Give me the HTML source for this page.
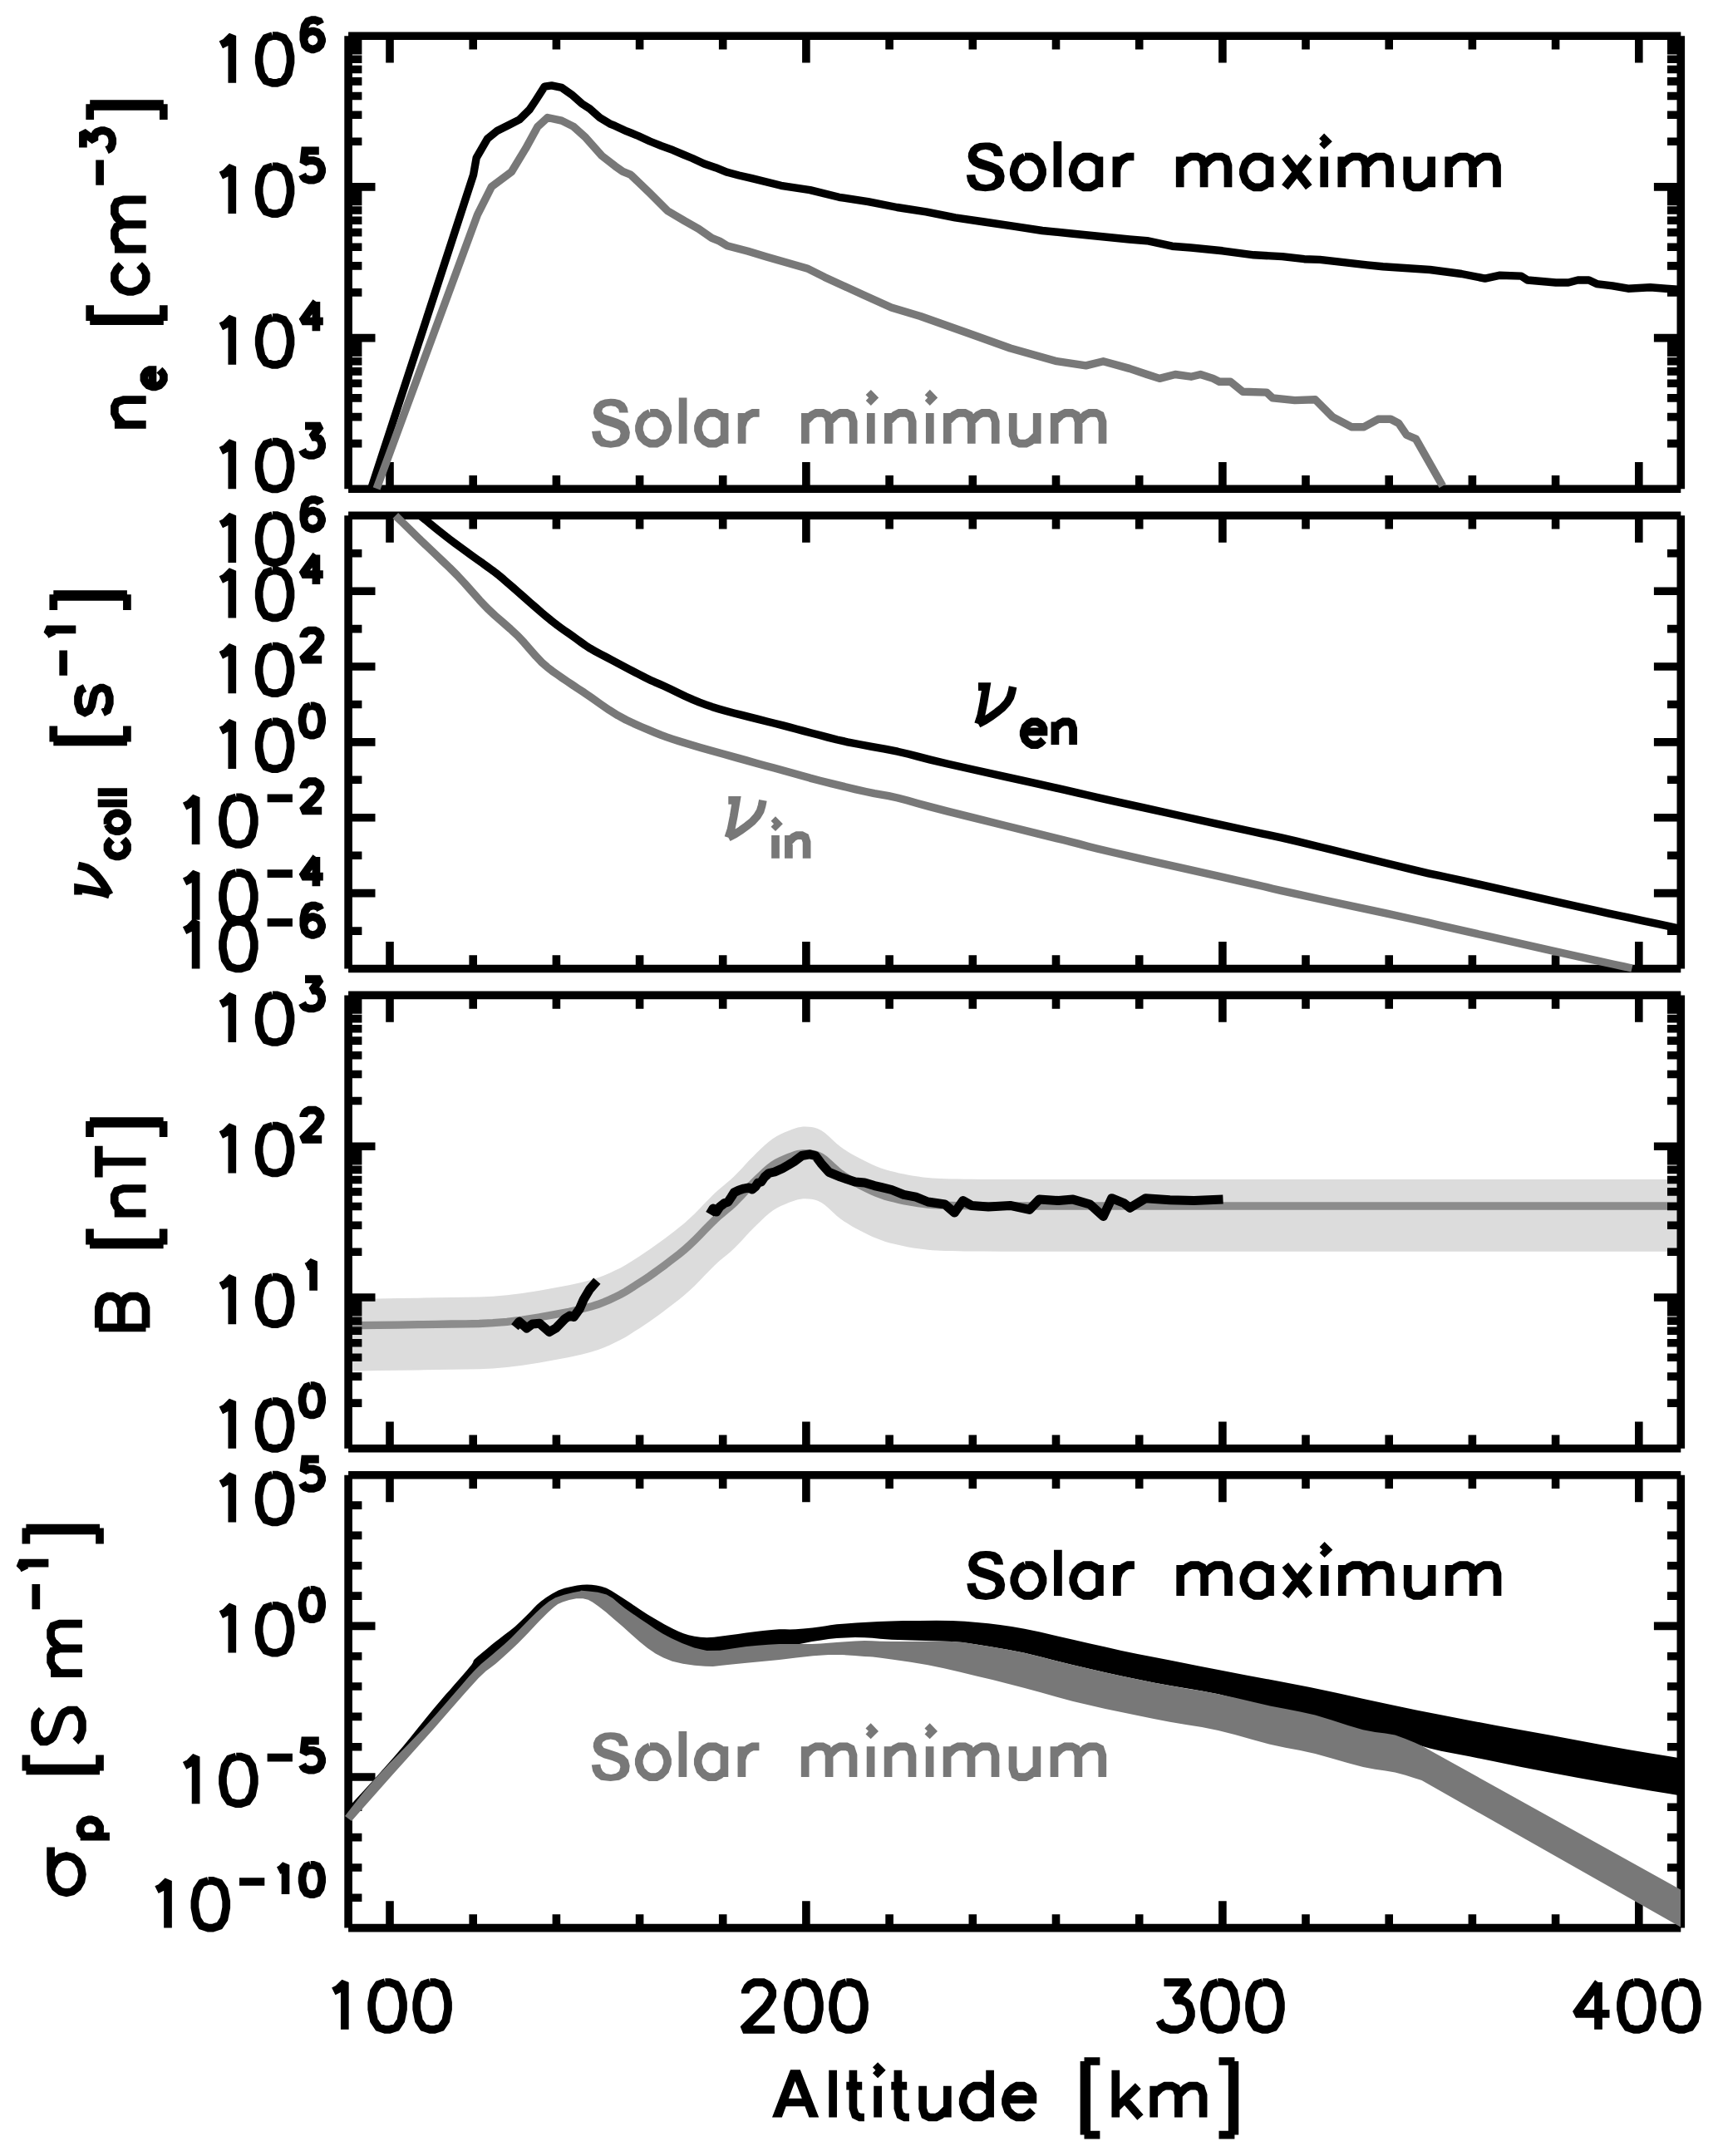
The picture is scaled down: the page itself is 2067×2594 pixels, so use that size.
<!DOCTYPE html>
<html><head><meta charset="utf-8"><title>Ionosphere profiles</title>
<style>html,body{margin:0;padding:0;background:#fff;width:2067px;height:2594px;overflow:hidden}svg{display:block}</style>
</head><body>
<svg width="2067" height="2594" viewBox="0 0 2067 2594">
<rect width="2067" height="2594" fill="#fff"/>
<path d="M419 1562.9 433.7 1562.7 454.7 1562.4 478.9 1562.1 503.3 1561.7 524.8 1561.3 543.1 1561 560.2 1560.8 576.6 1560.5 593 1559.7 610 1558.3 628.4 1556 647.8 1553 667 1549.6 684.6 1546.2 699.4 1543 710.8 1540.1 719.7 1537.3 726.9 1534.5 733.4 1531.7 740 1528.6 746.6 1525.4 752.7 1522 758.3 1518.5 763.9 1514.9 769.7 1511.2 775.6 1507.3 781.6 1503.3 787.5 1499.1 793.5 1494.8 799.4 1490.4 805.3 1485.9 811.2 1481.4 817.1 1476.8 823.1 1471.9 829.1 1466.6 835.3 1460.7 841.7 1454.2 848.1 1447.6 854.3 1441.2 860 1435.6 865.1 1430.9 869.9 1426.9 874.3 1423.2 878.8 1419.5 883.3 1415.3 888 1410.6 892.6 1405.7 897.3 1400.6 901.9 1395.6 906.6 1390.9 911.2 1386.3 915.9 1381.8 920.5 1377.4 925.2 1373.4 929.8 1369.9 934.6 1366.9 939.4 1364.4 944.3 1362.2 948.9 1360.4 953.1 1358.8 956.8 1357.5 960 1356.6 963.1 1356 966.1 1355.6 969.4 1355.6 972.9 1355.7 976.4 1356.1 980.1 1356.8 983.9 1358 988 1360 992.4 1363.1 997 1367.1 1001.8 1371.6 1006.6 1376 1011.3 1379.8 1015.9 1383 1020.5 1385.9 1025.1 1388.7 1029.8 1391.2 1034.6 1393.8 1039.5 1396.3 1044.5 1398.8 1049.6 1401.2 1054.8 1403.4 1060 1405.4 1065.3 1407.2 1070.7 1408.7 1076.2 1410.1 1081.7 1411.4 1087.3 1412.6 1093 1413.7 1098.8 1414.7 1104.7 1415.6 1110.6 1416.4 1116.4 1417 1121.8 1417.5 1126.6 1417.8 1131.8 1418 1137.8 1418.2 1145.5 1418.4 1153.1 1418.6 1160.1 1418.7 1169.1 1418.8 1182.8 1418.9 1203.7 1419 1227.3 1419 1251.8 1419 1284.2 1419 1331.3 1419 1400 1419 1507.2 1419 1648.1 1419 1797.7 1419 1930.9 1419 2022.3 1419 2022.3 1505.7 1930.9 1505.7 1797.7 1505.7 1648.1 1505.7 1507.2 1505.7 1400 1505.7 1331.3 1505.7 1284.2 1505.7 1251.8 1505.7 1227.3 1505.7 1203.7 1505.7 1182.8 1505.6 1169.1 1505.5 1160.1 1505.4 1153.1 1505.3 1145.5 1505.1 1137.8 1504.9 1131.8 1504.7 1126.6 1504.5 1121.8 1504.2 1116.4 1503.7 1110.6 1503.1 1104.7 1502.3 1098.8 1501.4 1093 1500.4 1087.3 1499.3 1081.7 1498.1 1076.2 1496.8 1070.7 1495.4 1065.3 1493.9 1060 1492.1 1054.8 1490.1 1049.6 1487.9 1044.5 1485.5 1039.5 1483 1034.6 1480.5 1029.8 1477.9 1025.1 1475.4 1020.5 1472.6 1015.9 1469.7 1011.3 1466.5 1006.6 1462.7 1001.8 1458.3 997 1453.8 992.4 1449.8 988 1446.7 983.9 1444.7 980.1 1443.5 976.4 1442.8 972.9 1442.4 969.4 1442.3 966.1 1442.3 963.1 1442.7 960 1443.3 956.8 1444.2 953.1 1445.5 948.9 1447.1 944.3 1448.9 939.4 1451.1 934.6 1453.6 929.8 1456.6 925.2 1460.1 920.5 1464.1 915.9 1468.5 911.2 1473 906.6 1477.6 901.9 1482.3 897.3 1487.3 892.6 1492.4 888 1497.3 883.3 1502 878.8 1506.2 874.3 1509.9 869.9 1513.6 865.1 1517.6 860 1522.3 854.3 1527.9 848.1 1534.3 841.7 1540.9 835.3 1547.4 829.1 1553.3 823.1 1558.6 817.1 1563.5 811.2 1568.1 805.3 1572.6 799.4 1577.1 793.5 1581.5 787.5 1585.8 781.6 1590 775.6 1594 769.7 1597.9 763.9 1601.6 758.3 1605.2 752.7 1608.7 746.6 1612.1 740 1615.3 733.4 1618.4 726.9 1621.2 719.7 1624 710.8 1626.8 699.4 1629.7 684.6 1632.9 667 1636.3 647.8 1639.7 628.4 1642.7 610 1645 593 1646.4 576.6 1647.2 560.2 1647.5 543.1 1647.7 524.8 1648 503.3 1648.4 478.9 1648.8 454.7 1649.1 433.7 1649.4 419 1649.6Z" fill="#dcdcdc"/>
<path d="M419 1594.9 433.7 1594.7 454.7 1594.4 478.9 1594.1 503.3 1593.7 524.8 1593.3 543.1 1593 560.2 1592.8 576.6 1592.5 593 1591.7 610 1590.3 628.4 1588 647.8 1585 667 1581.6 684.6 1578.2 699.4 1575 710.8 1572.1 719.7 1569.3 726.9 1566.5 733.4 1563.7 740 1560.6 746.6 1557.4 752.7 1554 758.3 1550.5 763.9 1546.9 769.7 1543.2 775.6 1539.3 781.6 1535.3 787.5 1531.1 793.5 1526.8 799.4 1522.4 805.3 1517.9 811.2 1513.4 817.1 1508.8 823.1 1503.9 829.1 1498.6 835.3 1492.7 841.7 1486.2 848.1 1479.6 854.3 1473.2 860 1467.6 865.1 1462.9 869.9 1458.9 874.3 1455.2 878.8 1451.5 883.3 1447.3 888 1442.6 892.6 1437.7 897.3 1432.6 901.9 1427.6 906.6 1422.9 911.2 1418.3 915.9 1413.8 920.5 1409.4 925.2 1405.4 929.8 1401.9 934.6 1398.9 939.4 1396.4 944.3 1394.2 948.9 1392.4 953.1 1390.8 956.8 1389.5 960 1388.6 963.1 1388 966.1 1387.6 969.4 1387.6 972.9 1387.7 976.4 1388.1 980.1 1388.8 983.9 1390 988 1392 992.4 1395.1 997 1399.1 1001.8 1403.6 1006.6 1408 1011.3 1411.8 1015.9 1415 1020.5 1417.9 1025.1 1420.7 1029.8 1423.2 1034.6 1425.8 1039.5 1428.3 1044.5 1430.8 1049.6 1433.2 1054.8 1435.4 1060 1437.4 1065.3 1439.2 1070.7 1440.7 1076.2 1442.1 1081.7 1443.4 1087.3 1444.6 1093 1445.7 1098.8 1446.7 1104.7 1447.6 1110.6 1448.4 1116.4 1449 1121.8 1449.5 1126.6 1449.8 1131.8 1450 1137.8 1450.2 1145.5 1450.4 1153.1 1450.6 1160.1 1450.7 1169.1 1450.8 1182.8 1450.9 1203.7 1451 1227.3 1451 1251.8 1451 1284.2 1451 1331.3 1451 1400 1451 1507.2 1451 1648.1 1451 1797.7 1451 1930.9 1451 2022.3 1451" fill="none" stroke="#8c8c8c" stroke-width="9.3"/>
<path d="M419.1 43.2L419.1 588.3M2022.3 43.2L2022.3 588.3M419.1 43.2L2022.3 43.2M419.1 588.3L2022.3 588.3M469 588.3L469 555.9M469 43.2L469 75.6M569.2 588.3L569.2 572M569.2 43.2L569.2 59.5M669.4 588.3L669.4 572M669.4 43.2L669.4 59.5M769.6 588.3L769.6 572M769.6 43.2L769.6 59.5M869.7 588.3L869.7 572M869.7 43.2L869.7 59.5M969.9 588.3L969.9 555.9M969.9 43.2L969.9 75.6M1070.1 588.3L1070.1 572M1070.1 43.2L1070.1 59.5M1170.3 588.3L1170.3 572M1170.3 43.2L1170.3 59.5M1270.5 588.3L1270.5 572M1270.5 43.2L1270.5 59.5M1370.7 588.3L1370.7 572M1370.7 43.2L1370.7 59.5M1470.9 588.3L1470.9 555.9M1470.9 43.2L1470.9 75.6M1571 588.3L1571 572M1571 43.2L1571 59.5M1671.2 588.3L1671.2 572M1671.2 43.2L1671.2 59.5M1771.4 588.3L1771.4 572M1771.4 43.2L1771.4 59.5M1871.6 588.3L1871.6 572M1871.6 43.2L1871.6 59.5M1971.8 588.3L1971.8 555.9M1971.8 43.2L1971.8 75.6M419.1 620.3L419.1 1165.5M2022.3 620.3L2022.3 1165.5M419.1 620.3L2022.3 620.3M419.1 1165.5L2022.3 1165.5M469 1165.5L469 1133.1M469 620.3L469 652.7M569.2 1165.5L569.2 1149.2M569.2 620.3L569.2 636.6M669.4 1165.5L669.4 1149.2M669.4 620.3L669.4 636.6M769.6 1165.5L769.6 1149.2M769.6 620.3L769.6 636.6M869.7 1165.5L869.7 1149.2M869.7 620.3L869.7 636.6M969.9 1165.5L969.9 1133.1M969.9 620.3L969.9 652.7M1070.1 1165.5L1070.1 1149.2M1070.1 620.3L1070.1 636.6M1170.3 1165.5L1170.3 1149.2M1170.3 620.3L1170.3 636.6M1270.5 1165.5L1270.5 1149.2M1270.5 620.3L1270.5 636.6M1370.7 1165.5L1370.7 1149.2M1370.7 620.3L1370.7 636.6M1470.9 1165.5L1470.9 1133.1M1470.9 620.3L1470.9 652.7M1571 1165.5L1571 1149.2M1571 620.3L1571 636.6M1671.2 1165.5L1671.2 1149.2M1671.2 620.3L1671.2 636.6M1771.4 1165.5L1771.4 1149.2M1771.4 620.3L1771.4 636.6M1871.6 1165.5L1871.6 1149.2M1871.6 620.3L1871.6 636.6M1971.8 1165.5L1971.8 1133.1M1971.8 620.3L1971.8 652.7M419.1 1197.4L419.1 1742.8M2022.3 1197.4L2022.3 1742.8M419.1 1197.4L2022.3 1197.4M419.1 1742.8L2022.3 1742.8M469 1742.8L469 1710.4M469 1197.4L469 1229.8M569.2 1742.8L569.2 1726.5M569.2 1197.4L569.2 1213.7M669.4 1742.8L669.4 1726.5M669.4 1197.4L669.4 1213.7M769.6 1742.8L769.6 1726.5M769.6 1197.4L769.6 1213.7M869.7 1742.8L869.7 1726.5M869.7 1197.4L869.7 1213.7M969.9 1742.8L969.9 1710.4M969.9 1197.4L969.9 1229.8M1070.1 1742.8L1070.1 1726.5M1070.1 1197.4L1070.1 1213.7M1170.3 1742.8L1170.3 1726.5M1170.3 1197.4L1170.3 1213.7M1270.5 1742.8L1270.5 1726.5M1270.5 1197.4L1270.5 1213.7M1370.7 1742.8L1370.7 1726.5M1370.7 1197.4L1370.7 1213.7M1470.9 1742.8L1470.9 1710.4M1470.9 1197.4L1470.9 1229.8M1571 1742.8L1571 1726.5M1571 1197.4L1571 1213.7M1671.2 1742.8L1671.2 1726.5M1671.2 1197.4L1671.2 1213.7M1771.4 1742.8L1771.4 1726.5M1771.4 1197.4L1771.4 1213.7M1871.6 1742.8L1871.6 1726.5M1871.6 1197.4L1871.6 1213.7M1971.8 1742.8L1971.8 1710.4M1971.8 1197.4L1971.8 1229.8M419.1 1774.8L419.1 2319.6M2022.3 1774.8L2022.3 2319.6M419.1 1774.8L2022.3 1774.8M419.1 2319.6L2022.3 2319.6M469 2319.6L469 2287.2M469 1774.8L469 1807.2M569.2 2319.6L569.2 2303.3M569.2 1774.8L569.2 1791.1M669.4 2319.6L669.4 2303.3M669.4 1774.8L669.4 1791.1M769.6 2319.6L769.6 2303.3M769.6 1774.8L769.6 1791.1M869.7 2319.6L869.7 2303.3M869.7 1774.8L869.7 1791.1M969.9 2319.6L969.9 2287.2M969.9 1774.8L969.9 1807.2M1070.1 2319.6L1070.1 2303.3M1070.1 1774.8L1070.1 1791.1M1170.3 2319.6L1170.3 2303.3M1170.3 1774.8L1170.3 1791.1M1270.5 2319.6L1270.5 2303.3M1270.5 1774.8L1270.5 1791.1M1370.7 2319.6L1370.7 2303.3M1370.7 1774.8L1370.7 1791.1M1470.9 2319.6L1470.9 2287.2M1470.9 1774.8L1470.9 1807.2M1571 2319.6L1571 2303.3M1571 1774.8L1571 1791.1M1671.2 2319.6L1671.2 2303.3M1671.2 1774.8L1671.2 1791.1M1771.4 2319.6L1771.4 2303.3M1771.4 1774.8L1771.4 1791.1M1871.6 2319.6L1871.6 2303.3M1871.6 1774.8L1871.6 1791.1M1971.8 2319.6L1971.8 2287.2M1971.8 1774.8L1971.8 1807.2M419.1 588.3L451.5 588.3M2022.3 588.3L1989.9 588.3M419.1 533.6L435.4 533.6M2022.3 533.6L2006 533.6M419.1 501.6L435.4 501.6M2022.3 501.6L2006 501.6M419.1 478.9L435.4 478.9M2022.3 478.9L2006 478.9M419.1 461.3L435.4 461.3M2022.3 461.3L2006 461.3M419.1 446.9L435.4 446.9M2022.3 446.9L2006 446.9M419.1 434.7L435.4 434.7M2022.3 434.7L2006 434.7M419.1 424.2L435.4 424.2M2022.3 424.2L2006 424.2M419.1 414.9L435.4 414.9M2022.3 414.9L2006 414.9M419.1 406.6L451.5 406.6M2022.3 406.6L1989.9 406.6M419.1 351.9L435.4 351.9M2022.3 351.9L2006 351.9M419.1 319.9L435.4 319.9M2022.3 319.9L2006 319.9M419.1 297.2L435.4 297.2M2022.3 297.2L2006 297.2M419.1 279.6L435.4 279.6M2022.3 279.6L2006 279.6M419.1 265.2L435.4 265.2M2022.3 265.2L2006 265.2M419.1 253L435.4 253M2022.3 253L2006 253M419.1 242.5L435.4 242.5M2022.3 242.5L2006 242.5M419.1 233.2L435.4 233.2M2022.3 233.2L2006 233.2M419.1 224.9L451.5 224.9M2022.3 224.9L1989.9 224.9M419.1 170.2L435.4 170.2M2022.3 170.2L2006 170.2M419.1 138.2L435.4 138.2M2022.3 138.2L2006 138.2M419.1 115.5L435.4 115.5M2022.3 115.5L2006 115.5M419.1 97.9L435.4 97.9M2022.3 97.9L2006 97.9M419.1 83.5L435.4 83.5M2022.3 83.5L2006 83.5M419.1 71.3L435.4 71.3M2022.3 71.3L2006 71.3M419.1 60.8L435.4 60.8M2022.3 60.8L2006 60.8M419.1 51.5L435.4 51.5M2022.3 51.5L2006 51.5M419.1 43.2L451.5 43.2M2022.3 43.2L1989.9 43.2M419.1 1165.5L451.5 1165.5M2022.3 1165.5L1989.9 1165.5M419.1 1120.1L435.4 1120.1M2022.3 1120.1L2006 1120.1M419.1 1074.6L451.5 1074.6M2022.3 1074.6L1989.9 1074.6M419.1 1029.2L435.4 1029.2M2022.3 1029.2L2006 1029.2M419.1 983.8L451.5 983.8M2022.3 983.8L1989.9 983.8M419.1 938.3L435.4 938.3M2022.3 938.3L2006 938.3M419.1 892.9L451.5 892.9M2022.3 892.9L1989.9 892.9M419.1 847.5L435.4 847.5M2022.3 847.5L2006 847.5M419.1 802L451.5 802M2022.3 802L1989.9 802M419.1 756.6L435.4 756.6M2022.3 756.6L2006 756.6M419.1 711.2L451.5 711.2M2022.3 711.2L1989.9 711.2M419.1 665.7L435.4 665.7M2022.3 665.7L2006 665.7M419.1 620.3L451.5 620.3M2022.3 620.3L1989.9 620.3M419.1 1742.8L451.5 1742.8M2022.3 1742.8L1989.9 1742.8M419.1 1688.1L435.4 1688.1M2022.3 1688.1L2006 1688.1M419.1 1656.1L435.4 1656.1M2022.3 1656.1L2006 1656.1M419.1 1633.3L435.4 1633.3M2022.3 1633.3L2006 1633.3M419.1 1615.7L435.4 1615.7M2022.3 1615.7L2006 1615.7M419.1 1601.3L435.4 1601.3M2022.3 1601.3L2006 1601.3M419.1 1589.2L435.4 1589.2M2022.3 1589.2L2006 1589.2M419.1 1578.6L435.4 1578.6M2022.3 1578.6L2006 1578.6M419.1 1569.3L435.4 1569.3M2022.3 1569.3L2006 1569.3M419.1 1561L451.5 1561M2022.3 1561L1989.9 1561M419.1 1506.3L435.4 1506.3M2022.3 1506.3L2006 1506.3M419.1 1474.3L435.4 1474.3M2022.3 1474.3L2006 1474.3M419.1 1451.5L435.4 1451.5M2022.3 1451.5L2006 1451.5M419.1 1433.9L435.4 1433.9M2022.3 1433.9L2006 1433.9M419.1 1419.5L435.4 1419.5M2022.3 1419.5L2006 1419.5M419.1 1407.4L435.4 1407.4M2022.3 1407.4L2006 1407.4M419.1 1396.8L435.4 1396.8M2022.3 1396.8L2006 1396.8M419.1 1387.5L435.4 1387.5M2022.3 1387.5L2006 1387.5M419.1 1379.2L451.5 1379.2M2022.3 1379.2L1989.9 1379.2M419.1 1324.5L435.4 1324.5M2022.3 1324.5L2006 1324.5M419.1 1292.5L435.4 1292.5M2022.3 1292.5L2006 1292.5M419.1 1269.7L435.4 1269.7M2022.3 1269.7L2006 1269.7M419.1 1252.1L435.4 1252.1M2022.3 1252.1L2006 1252.1M419.1 1237.7L435.4 1237.7M2022.3 1237.7L2006 1237.7M419.1 1225.6L435.4 1225.6M2022.3 1225.6L2006 1225.6M419.1 1215L435.4 1215M2022.3 1215L2006 1215M419.1 1205.7L435.4 1205.7M2022.3 1205.7L2006 1205.7M419.1 1197.4L451.5 1197.4M2022.3 1197.4L1989.9 1197.4M419.1 2319.6L451.5 2319.6M2022.3 2319.6L1989.9 2319.6M419.1 2283.3L435.4 2283.3M2022.3 2283.3L2006 2283.3M419.1 2247L435.4 2247M2022.3 2247L2006 2247M419.1 2210.6L435.4 2210.6M2022.3 2210.6L2006 2210.6M419.1 2174.3L435.4 2174.3M2022.3 2174.3L2006 2174.3M419.1 2138L451.5 2138M2022.3 2138L1989.9 2138M419.1 2101.7L435.4 2101.7M2022.3 2101.7L2006 2101.7M419.1 2065.4L435.4 2065.4M2022.3 2065.4L2006 2065.4M419.1 2029L435.4 2029M2022.3 2029L2006 2029M419.1 1992.7L435.4 1992.7M2022.3 1992.7L2006 1992.7M419.1 1956.4L451.5 1956.4M2022.3 1956.4L1989.9 1956.4M419.1 1920.1L435.4 1920.1M2022.3 1920.1L2006 1920.1M419.1 1883.8L435.4 1883.8M2022.3 1883.8L2006 1883.8M419.1 1847.4L435.4 1847.4M2022.3 1847.4L2006 1847.4M419.1 1811.1L435.4 1811.1M2022.3 1811.1L2006 1811.1M419.1 1774.8L451.5 1774.8M2022.3 1774.8L1989.9 1774.8" fill="none" stroke="#000" stroke-width="9.6" stroke-linecap="butt"/>
<g fill="none" stroke-width="9.4" stroke-linejoin="round" stroke-linecap="butt">
<path d="M446.5 588.3 569.6 210.3 573.2 189.8 586.5 166.9 598.5 157.2 613 150 625 143.9 637.1 131.9 644.4 121 655.2 104.1 663.7 102.9 675.7 105.3 687.8 113.8 699.9 124.6 709.5 130.7 721.6 141.5 733.6 148.8 740 151.4 754 157.9 767.9 163.5 781.9 170 795.9 175.6 809.8 180.7 821.9 185.9 833.1 190.5 847.1 197 861 201.7 875 207.3 889 211 904.8 214.6 939.7 223.3 974.6 228.6 1009.6 237.3 1044.5 242.6 1079.4 249.5 1114.3 254.8 1149.3 261.8 1184.2 267 1219.1 272.2 1254.1 277.5 1289 281 1323.9 284.5 1358.8 288 1380 289.7 1410.3 296.2 1433 298 1470.8 301.8 1508.6 306.8 1542.7 308.6 1569.2 311.7 1588.1 312.4 1644.9 318.9 1663.8 320.8 1720.5 324.5 1758.4 329.5 1786.7 335.1 1803.8 331.3 1830.2 332.1 1837.8 337 1871.9 340 1887 340 1898.4 337 1911.6 337 1921.1 341.6 1940 343.8 1958.9 347.2 1985.4 345.7 2004.3 347.2 2022.3 348.4" stroke="#000"/>
<path d="M453.1 587.8 574.4 258.5 591.3 224.8 615.4 206.7 632.3 178.9 646.8 152.4 658.8 141.5 675.7 145.1 690.2 152.4 704.7 165.6 724 187.4 740 199.8 749.3 206.4 758.6 210.1 781.9 232.4 803.3 253.8 823.8 265.9 840.6 275.3 856.4 286.4 865.7 290.1 875 295.7 900 302.3 922.2 308.9 971.1 322.9 992.1 333.4 1037.5 354.3 1072.4 370 1107.4 380.5 1166.7 401.5 1215.6 419 1271.5 434.7 1306.5 439.9 1327.4 434.7 1358.8 443.4 1380 450.5 1395.1 455.4 1414 450.5 1433 453.2 1444.3 450.5 1459.5 455.4 1467 459.2 1480.3 459.2 1495.4 471.3 1523.8 472.1 1531.3 478.9 1557.8 481.6 1582.4 480.8 1603.2 501.6 1625.9 513.7 1641.1 513.7 1658.1 504.3 1673.2 504.3 1682.7 509.2 1692.2 523.2 1703.5 528.1 1735.7 584.8" stroke="#787878"/>
<path d="M505.5 620.3 510.7 624.5 518.1 630.6 526.4 637.3 534 643.4 540.7 648.6 547.2 653.5 553.7 658.2 560.2 663 567 668 574 673 580.7 677.7 586.4 681.9 590.7 685 594 687.4 597.1 689.8 601 692.9 605.8 696.9 611 701.5 616.7 706.4 622.8 711.8 629.8 717.9 637.5 724.7 645.2 731.4 651.9 737.2 657.4 741.8 662.1 745.7 666.4 749.1 670.8 752.5 675.2 755.7 679.4 758.7 683.7 761.7 688.3 764.9 693.3 768.5 698.6 772.4 704.2 776.4 710.1 780.2 716.1 783.6 722.2 786.9 728.8 790.3 736.5 794.3 745.9 799.3 756.7 805.1 767.4 810.7 776.4 815.3 782.9 818.4 787.7 820.6 792.5 822.6 798.5 825.3 806.5 829.1 815.7 833.5 825.1 838 833.9 841.9 841.8 845.1 849.2 847.8 856.7 850.4 864.8 852.9 873.7 855.5 883 858 892.7 860.4 902.4 862.9 912.4 865.4 922.6 868 932.7 870.5 942.2 872.9 950.7 875.1 958.5 877.2 966.5 879.4 975.4 881.7 985.3 884.3 995.9 887.1 1007.2 890 1019.7 892.8 1033.7 895.5 1048.9 898.3 1064.6 901.1 1080 904.2 1093.1 907.3 1105 910.4 1119.4 914.1 1140 919 1171.2 926 1210 934.6 1248.8 943.2 1280 950.1 1298.3 954.3 1308.8 956.8 1319.8 959.4 1340 963.9 1375.3 971.7 1420 981.5 1464.7 991.3 1500 999 1520.2 1003.3 1531.2 1005.6 1541.7 1007.9 1560 1012.1 1591.2 1019.7 1630 1029.2 1668.8 1038.8 1700 1046.4 1718.8 1050.8 1730 1053.2 1741.2 1055.5 1760 1059.6 1791.2 1066.6 1830 1075.4 1868.8 1084.1 1900 1091.1 1920.6 1095.7 1934.9 1098.8 1946.7 1101.3 1960 1104.2 1976.9 1107.8 1994.9 1111.7 2011.1 1115.1 2022.3 1117.5" stroke="#000"/>
<path d="M475.8 620.3 482.6 627 492.5 636.6 503.4 647.3 513.7 657.2 522.9 665.9 531.9 674.5 541 683.1 550 692.1 559.1 701.9 568.2 712.2 577.3 722.4 586.4 732 595.7 740.7 605.1 748.9 614.2 756.9 622.8 764.9 630.7 773.3 638.1 781.8 645.1 789.8 651.9 796.9 658.3 802.6 664.4 807.3 670.4 811.5 676.6 815.8 682.7 820 688.7 824 695.2 828.3 702.8 833.3 712 839.7 722.3 847 733 854.3 743.2 860.7 753 866 762.7 870.6 772.1 874.7 780.8 878.4 788.5 881.6 795.4 884.4 802.2 886.9 809.5 889.4 817 891.8 824.4 894.1 832.7 896.5 842.7 899.4 855.2 903 869.7 907 884.4 911.1 898 914.9 909.8 918.2 920.8 921.2 931.4 924 942.2 927 953 930 963.7 933 974.6 936.1 986.5 939.2 1000 942.6 1014.5 946.1 1028.9 949.6 1041.8 952.5 1052 954.6 1060.6 956.1 1069.3 957.7 1080 960 1091.6 963 1103.6 966.4 1118.9 970.6 1140 976.1 1171.2 983.9 1210 993.5 1248.8 1003.1 1280 1010.8 1298.3 1015.4 1308.8 1018.2 1319.8 1021 1340 1025.8 1375.3 1033.9 1420 1043.9 1464.7 1053.9 1500 1061.9 1520.2 1066.5 1531.2 1069.2 1541.7 1071.6 1560 1075.7 1591.2 1082.5 1630 1090.9 1668.8 1099.2 1700 1106 1718.8 1110.2 1730 1112.8 1741.2 1115.4 1760 1119.7 1791.2 1126.7 1829.8 1135.4 1868.5 1144.1 1900 1151.1 1922.7 1156.1 1940.5 1160 1953.9 1162.9 1963.5 1165" stroke="#787878"/>
<path d="M619.4 1596.7 624.7 1590.1 631 1595.7 633.7 1598.1 640.7 1592.9 649.1 1592.2 654.7 1597.1 661 1602.6 668.7 1598.1 679.8 1586.6 685.4 1583.1 690.3 1584.5 697.3 1574.7 702.2 1563.5 709.2 1551.7 718.3 1541.2M854 1460.8 858 1454 862 1458 866 1452 871.6 1447.6 876 1446 880 1440 883.3 1434.8 889 1432 894.9 1430.1 901 1429 905 1431 908.9 1427.8 912 1423 915.9 1422 920 1416 925.2 1411.5 932 1410 941.5 1405.7 948 1402 955.5 1397.5 964.8 1390.5 974.1 1388.8 981.1 1390.5 988 1399.8 997.4 1410.3 1011.3 1416.1 1028.8 1422 1040.4 1423.1 1052.1 1426.6 1060 1428.4 1072.8 1431.5 1087.3 1437.3 1101.9 1440.2 1116.4 1446 1136.8 1449 1148.4 1459.1 1158.6 1444.6 1168.8 1450.4 1189.2 1451.9 1215.4 1450.4 1238.6 1455.4 1250.3 1443.1 1273.6 1444.6 1291 1443.1 1311.4 1449 1327.4 1463.5 1337.6 1441.7 1352.2 1447.5 1359.4 1453.3 1378.3 1441.7 1407.5 1443.7 1436.5 1444.6 1471.5 1443.1" stroke="#000" stroke-width="11"/>
</g>
<path d="M415 2174 415.7 2174.7 417.4 2174.9 423.7 2169.4 438.3 2153.8 457.6 2132.5 474.4 2113.6 485.3 2100.8 493.7 2090.4 502.1 2080 511.8 2068.1 521.6 2056.1 530.1 2045.9 536.2 2038.8 541.1 2033.4 546.4 2027.3 553.7 2018.9 561.5 2009.9 567.3 2002.9 569.3 1999.7 569.4 1998.4 570.8 1996.5 575 1992.7 580.4 1988.2 585.9 1983.7 590.8 1979.6 595.8 1975.6 601.1 1971.4 607.1 1966.8 613.5 1962 619.7 1956.9 625.8 1951.3 631.7 1945.5 637.2 1940 641.7 1935.3 645.8 1931 650.7 1926.7 657.1 1922.1 664.3 1917.4 671.7 1913.6 679.3 1910.8 687.2 1908.9 694.4 1907.5 700.6 1906.7 706.2 1906.5 711.9 1906.8 717.7 1907.5 723.6 1908.7 729.7 1910.8 735.8 1913.9 742.1 1917.9 749.5 1922.7 758.7 1928.8 768.9 1935.8 779.2 1942.4 789.4 1948.6 799.7 1954.4 808.8 1959.3 816.1 1962.8 822.2 1965.3 828.6 1967.2 835.5 1968.8 842.6 1969.8 850.4 1970.2 859.1 1969.7 868.5 1968.5 878.1 1967.2 887.9 1965.9 897.8 1964.5 907.8 1963.2 918.1 1962 928.3 1961 937.5 1960.3 944.5 1960.2 950.3 1960.4 957.3 1960.3 966.8 1959.5 977.5 1958.4 987 1957.3 993.7 1956.3 999.2 1955.3 1006.7 1954.3 1017.5 1953.4 1030.2 1952.6 1043.7 1951.8 1057.2 1951.1 1071.4 1950.5 1087.3 1950.1 1106.2 1949.9 1126.6 1949.8 1145.5 1950.1 1161.1 1950.8 1175.2 1951.9 1189.2 1953.3 1203.2 1954.9 1217.2 1957 1232.8 1959.7 1251.1 1963.6 1271.1 1968.2 1291 1972.8 1310.4 1977.2 1329.8 1981.6 1349.2 1985.9 1368.6 1989.9 1388.1 1993.7 1407.5 1997.5 1425 2001 1442.4 2004.5 1465.7 2009.1 1499.1 2015.4 1538.4 2022.7 1576 2030 1609.1 2037 1640.5 2044 1672 2050.8 1704 2057.4 1736.1 2063.8 1768.1 2070 1800.1 2076 1832.1 2081.8 1864.1 2087.6 1897.4 2093.7 1930.7 2099.9 1960.2 2105.2 1985.7 2109.6 2007.5 2113.1 2022.3 2115.5 2022.3 2160.5 2007.5 2158.1 1985.7 2154.5 1960.2 2150.1 1930.7 2144.8 1897.4 2138.8 1864.1 2132.5 1830.3 2125.9 1796.5 2119.1 1768.1 2113.3 1748.3 2109.5 1733.8 2106.7 1720.1 2103.6 1705.6 2099.3 1691.9 2094.6 1678.5 2090.6 1666.1 2088.4 1654.1 2086.9 1640 2084.2 1622.1 2078.9 1602.1 2072.4 1582.4 2066.6 1564.3 2062.6 1546.6 2059.3 1528 2055.4 1507.7 2049.8 1486.5 2043.6 1465.7 2038.2 1446 2034.4 1426.8 2031.3 1407.5 2028.1 1388.1 2024.4 1368.6 2020.5 1349.2 2016.4 1329.8 2012.2 1310.4 2007.8 1291 2003.3 1271.6 1998.4 1252.2 1993.4 1232.8 1988.8 1212.3 1984.8 1191.8 1981.3 1174.6 1978.6 1164.4 1976.9 1157.4 1975.9 1145.5 1975.1 1123 1974.3 1095.7 1973.5 1072.8 1972.8 1058.9 1971.8 1049.5 1970.8 1040 1970.2 1028.8 1970.1 1017.5 1970.4 1006.7 1971.1 996.9 1972.1 987.6 1973.4 977.1 1975.1 964.6 1977.4 951.1 1980 937.5 1982.1 924.6 1983.3 911.7 1984 897.9 1985 882.5 1987.3 866.2 1989.7 850.4 1990 835.2 1986.6 820.6 1980.9 807.6 1975 797.2 1969.6 788.4 1963.9 779.7 1958 770.2 1951.7 760.7 1945.2 751.8 1939 744.3 1932.9 737.4 1927 729.7 1922.5 719.3 1919.8 708.1 1918.5 700 1917.7 698.3 1917.3 699.6 1917.4 697.9 1918.4 689.8 1920.1 678.6 1922.7 668.2 1926.3 660.3 1931 653.2 1936.8 645.3 1944 635.5 1953.7 624.8 1964.8 615 1974.8 606.6 1982.5 599 1989 591.8 1995.2 585.2 2000.8 578.9 2006.1 572 2012.7 564.3 2021.1 556 2030.7 546.4 2041.8 535.6 2054.2 523.6 2068 509.1 2084 490.1 2103.7 468.6 2125.5 449.9 2145.4 435.2 2162.9 423.1 2178.4 415 2189.1Z" fill="#000"/>
<path d="M415 2185.1 423.1 2174.4 435.2 2158.9 449.9 2141.4 468.6 2121.5 490.1 2099.7 509.1 2080 523.6 2064 535.6 2050.2 546.4 2037.8 556 2026.7 564.3 2017.1 572 2008.7 578.9 2002.1 585.2 1996.8 591.8 1991.2 599 1985 606.6 1978.5 615 1970.8 624.8 1960.8 635.5 1949.7 645.3 1940 653.2 1932.8 660.3 1927 668.2 1922.3 678.6 1918.7 689.8 1916.1 697.9 1914.4 699.6 1913.4 698.3 1913.3 700 1913.7 708.1 1914.5 719.3 1915.8 729.7 1918.5 737.4 1923 744.3 1928.9 751.8 1935 760.7 1941.2 770.2 1947.7 779.7 1954 788.4 1959.9 797.2 1965.6 807.6 1971 820.6 1976.9 835.2 1982.6 850.4 1986 866.2 1985.7 882.5 1983.3 897.9 1981 911.7 1979.8 924.6 1978.8 937.5 1978.1 951.1 1978 964.6 1978.1 977.1 1978.1 987.6 1977.6 996.9 1976.8 1006.7 1976.1 1017.5 1975.3 1028.8 1974.6 1040 1974.1 1049.5 1974.2 1058.9 1974.7 1072.8 1975 1095.7 1975 1123 1974.8 1145.5 1975.1 1157.4 1975.8 1164.4 1976.8 1174.6 1978.6 1191.8 1981.3 1212.3 1984.8 1232.8 1988.8 1252.2 1993.4 1271.6 1998.4 1291 2003.3 1310.4 2007.8 1329.8 2012.2 1349.2 2016.4 1368.6 2020.5 1388.1 2024.4 1407.5 2028.1 1426.8 2031.4 1446 2034.6 1465.7 2038.2 1486.5 2042.7 1507.7 2047.7 1528 2052.4 1546.6 2056.1 1564.3 2059.5 1582.4 2063.6 1602.1 2069.4 1622.1 2075.9 1640 2081.2 1654.5 2083.9 1666.9 2085.4 1678.5 2087.6 1690.8 2091.9 1702.4 2096.8 1710.5 2100.4 2022 2273.6 2022 2318.5 1710.5 2142.1 1702.4 2139.5 1690.8 2135.8 1678.5 2132.5 1666.9 2130.5 1654.5 2128.8 1640 2126.1 1622.1 2121.3 1602.1 2115.4 1582.4 2110 1564.3 2106.1 1546.6 2102.8 1528 2098.8 1507.7 2093.3 1486.5 2087.2 1465.7 2081.9 1446 2078.1 1426.8 2075 1407.5 2071.7 1388.1 2068 1368.6 2064.1 1349.2 2060.1 1329.8 2056 1310.4 2051.6 1291 2047 1271.6 2041.8 1252.2 2036.3 1232.8 2031 1213.4 2026 1194 2021.1 1174.6 2016.4 1155.2 2011.8 1135.8 2007.3 1116.4 2003.3 1095.5 1999.8 1074.6 1996.8 1058.2 1994.6 1050.1 1993.5 1046.4 1993.2 1040 1992.9 1028.1 1992 1013.4 1991 996.9 1990.9 978.3 1992.3 957.9 1994.6 937.5 1996.9 916.6 1999 895.7 2001.1 878.1 2002.8 866.4 2004.1 857.9 2004.9 848.4 2004.8 835.6 2003.8 821.6 2001.8 808.8 1998.8 798.2 1994.6 788.7 1989.4 779.2 1983 769.3 1975.1 759.4 1966.2 749.5 1957.3 739.2 1948.4 728.9 1939.6 719.8 1932.5 713.1 1927.7 707.6 1924.7 701.4 1923.2 693.4 1923.3 684.8 1925 676.9 1927.5 671.2 1930.1 666.3 1933.7 659.3 1940 648.3 1951.1 635.2 1964.9 623.2 1977.3 613.4 1986.6 604.6 1994.6 596.4 2001.7 590.2 2006.4 584.7 2010.4 575.5 2019.2 559.9 2036.5 540.6 2058.6 521.9 2080 505.3 2098.6 489.2 2116.4 473 2134.5 454.6 2155.3 436 2176.3 423 2191Z" fill="#787878"/>
<path d="M951 2490.3 962.8 2490.3 985.2 2547.5 973.4 2547.5 968.5 2534.2 945.7 2534.2 940.8 2547.5 929 2547.5ZM956.7 2504 948.9 2524.8 964.8 2524.8ZM1206.6 188 1205.4 181.8 1202.3 176.5 1197 173 1190.7 171.6 1185.5 171.4 1178.5 172 1172.6 174.1 1167.7 178.3 1165.1 183.9 1164.7 188.7 1166.3 194.3 1170.5 198.9 1177.5 202.4 1187.2 205.3 1193.5 207.6 1196.3 209.7 1197.4 213.2 1196 218.1 1192.1 220.9 1186.2 222.3 1180.2 221.2 1176.1 218.1 1174 213.9 1173.3 209.9 1162.8 210.6 1164.2 218.1 1167.7 224.4 1174 228.9 1185.5 230.3 1196 228.9 1203.7 224.7 1207.8 218.8 1208.7 211.8 1206.8 204.5 1201.9 199.2 1194.2 195.7 1183.7 192.2 1177.5 190.1 1175 186.7 1176.1 183.2 1180.2 180.7 1185.8 179.8 1191.4 180.9 1194.9 183.9 1196 188ZM1207.1 1882.6 1205.9 1876.4 1202.8 1871.1 1197.5 1867.6 1191.2 1866.2 1186 1866 1179 1866.6 1173.1 1868.7 1168.2 1872.9 1165.6 1878.5 1165.2 1883.3 1166.8 1888.9 1171 1893.5 1178 1897 1187.7 1899.9 1194 1902.2 1196.8 1904.3 1197.9 1907.8 1196.5 1912.7 1192.6 1915.5 1186.7 1916.9 1180.7 1915.8 1176.6 1912.7 1174.5 1908.5 1173.8 1904.5 1163.3 1905.2 1164.7 1912.7 1168.2 1919 1174.5 1923.5 1186 1924.9 1196.5 1923.5 1204.2 1919.3 1208.3 1913.4 1209.2 1906.4 1207.3 1899.1 1202.4 1893.8 1194.7 1890.3 1184.2 1886.8 1178 1884.7 1175.5 1881.3 1176.6 1877.8 1180.7 1875.3 1186.3 1874.4 1191.9 1875.5 1195.4 1878.5 1196.5 1882.6Z" fill="#000" fill-rule="evenodd"/>
<path d="M755.8 496.4 754.6 490.2 751.5 484.9 746.2 481.4 739.9 480 734.7 479.8 727.7 480.4 721.8 482.5 716.9 486.7 714.3 492.3 713.9 497.1 715.5 502.7 719.7 507.3 726.7 510.8 736.4 513.7 742.7 516 745.5 518.1 746.6 521.6 745.2 526.5 741.3 529.3 735.4 530.7 729.4 529.6 725.3 526.5 723.2 522.3 722.5 518.3 712 519 713.4 526.5 716.9 532.8 723.2 537.3 734.7 538.7 745.2 537.3 752.9 533.1 757 527.2 757.9 520.2 756 512.9 751.1 507.6 743.4 504.1 732.9 500.6 726.7 498.5 724.2 495.1 725.3 491.6 729.4 489.1 735 488.2 740.6 489.3 744.1 492.3 745.2 496.4ZM755.6 2100.8 754.4 2094.6 751.3 2089.3 746 2085.8 739.7 2084.4 734.5 2084.2 727.5 2084.8 721.6 2086.9 716.7 2091.1 714.1 2096.7 713.7 2101.5 715.3 2107.1 719.5 2111.7 726.5 2115.2 736.2 2118.1 742.5 2120.4 745.3 2122.5 746.4 2126 745 2130.9 741.1 2133.7 735.2 2135.1 729.2 2134 725.1 2130.9 723 2126.7 722.3 2122.7 711.8 2123.4 713.2 2130.9 716.7 2137.2 723 2141.7 734.5 2143.1 745 2141.7 752.7 2137.5 756.8 2131.6 757.7 2124.6 755.8 2117.3 750.9 2112 743.2 2108.5 732.7 2105 726.5 2102.9 724 2099.5 725.1 2096 729.2 2093.5 734.8 2092.6 740.4 2093.7 743.9 2096.7 745 2100.8Z" fill="#787878"/>
<g fill="none" stroke-width="9.7" stroke-linecap="butt" stroke-linejoin="miter" stroke-miterlimit="2">
<path d="M265.8 53.9 271.2 51.2 279.3 43.1 279.3 99.8M327.9 43.1 319.8 45.8 314.4 53.9 311.7 67.4 311.7 75.5 314.4 89 319.8 97.1 327.9 99.8 333.3 99.8 341.4 97.1 346.8 89 349.5 75.5 349.5 67.4 346.8 53.9 341.4 45.8 333.3 43.1 327.9 43.1M385.5 29.1 383.8 25.7 378.8 24 375.4 24 370.4 25.7 367 30.7 365.3 39.1 365.3 47.5 367 54.3 370.4 57.6 375.4 59.3 377.1 59.3 382.1 57.6 385.5 54.3 387.2 49.2 387.2 47.5 385.5 42.5 382.1 39.1 377.1 37.5 375.4 37.5 370.4 39.1 367 42.5 365.3 47.5M265.8 211.2 271.2 208.5 279.3 200.4 279.3 257.1M327.9 200.4 319.8 203.1 314.4 211.2 311.7 224.7 311.7 232.8 314.4 246.3 319.8 254.4 327.9 257.1 333.3 257.1 341.4 254.4 346.8 246.3 349.5 232.8 349.5 224.7 346.8 211.2 341.4 203.1 333.3 200.4 327.9 200.4M383.8 181.3 367 181.3 365.3 196.4 367 194.8 372 193.1 377.1 193.1 382.1 194.8 385.5 198.1 387.2 203.2 387.2 206.5 385.5 211.6 382.1 214.9 377.1 216.6 372 216.6 367 214.9 365.3 213.2 363.6 209.9M265.8 392.9 271.2 390.2 279.3 382.1 279.3 438.8M327.9 382.1 319.8 384.8 314.4 392.9 311.7 406.4 311.7 414.5 314.4 428 319.8 436.1 327.9 438.8 333.3 438.8 341.4 436.1 346.8 428 349.5 414.5 349.5 406.4 346.8 392.9 341.4 384.8 333.3 382.1 327.9 382.1M380.4 363 363.6 386.5 388.8 386.5M380.4 363 380.4 398.3M265.8 542.4 271.2 539.7 279.3 531.6 279.3 588.3M327.9 531.6 319.8 534.3 314.4 542.4 311.7 555.9 311.7 564 314.4 577.5 319.8 585.6 327.9 588.3 333.3 588.3 341.4 585.6 346.8 577.5 349.5 564 349.5 555.9 346.8 542.4 341.4 534.3 333.3 531.6 327.9 531.6M367 512.5 385.5 512.5 375.4 526 380.4 526 383.8 527.6 385.5 529.3 387.2 534.4 387.2 537.7 385.5 542.8 382.1 546.1 377.1 547.8 372 547.8 367 546.1 365.3 544.4 363.6 541.1M265.8 631 271.2 628.3 279.3 620.2 279.3 676.9M327.9 620.2 319.8 622.9 314.4 631 311.7 644.5 311.7 652.6 314.4 666.1 319.8 674.2 327.9 676.9 333.3 676.9 341.4 674.2 346.8 666.1 349.5 652.6 349.5 644.5 346.8 631 341.4 622.9 333.3 620.2 327.9 620.2M385.5 606.2 383.8 602.8 378.8 601.1 375.4 601.1 370.4 602.8 367 607.8 365.3 616.2 365.3 624.6 367 631.4 370.4 634.7 375.4 636.4 377.1 636.4 382.1 634.7 385.5 631.4 387.2 626.3 387.2 624.6 385.5 619.6 382.1 616.2 377.1 614.6 375.4 614.6 370.4 616.2 367 619.6 365.3 624.6M265.8 697.5 271.2 694.8 279.3 686.7 279.3 743.4M327.9 686.7 319.8 689.4 314.4 697.5 311.7 711 311.7 719.1 314.4 732.6 319.8 740.7 327.9 743.4 333.3 743.4 341.4 740.7 346.8 732.6 349.5 719.1 349.5 711 346.8 697.5 341.4 689.4 333.3 686.7 327.9 686.7M380.4 667.6 363.6 691.1 388.8 691.1M380.4 667.6 380.4 702.9M265.8 788.3 271.2 785.6 279.3 777.5 279.3 834.2M327.9 777.5 319.8 780.2 314.4 788.3 311.7 801.8 311.7 809.9 314.4 823.4 319.8 831.5 327.9 834.2 333.3 834.2 341.4 831.5 346.8 823.4 349.5 809.9 349.5 801.8 346.8 788.3 341.4 780.2 333.3 777.5 327.9 777.5M365.3 766.9 365.3 765.2 367 761.8 368.7 760.1 372 758.5 378.8 758.5 382.1 760.1 383.8 761.8 385.5 765.2 385.5 768.5 383.8 771.9 380.4 776.9 363.6 793.7 387.2 793.7M265.8 879.2 271.2 876.5 279.3 868.4 279.3 925.1M327.9 868.4 319.8 871.1 314.4 879.2 311.7 892.7 311.7 900.8 314.4 914.3 319.8 922.4 327.9 925.1 333.3 925.1 341.4 922.4 346.8 914.3 349.5 900.8 349.5 892.7 346.8 879.2 341.4 871.1 333.3 868.4 327.9 868.4M373.7 849.3 368.7 851 365.3 856 363.6 864.4 363.6 869.5 365.3 877.9 368.7 882.9 373.7 884.6 377.1 884.6 382.1 882.9 385.5 877.9 387.2 869.5 387.2 864.4 385.5 856 382.1 851 377.1 849.3 373.7 849.3M222.1 970.1 227.5 967.4 235.6 959.3 235.6 1016M284.2 959.3 276.1 962 270.7 970.1 268 983.6 268 991.7 270.7 1005.2 276.1 1013.3 284.2 1016 289.6 1016 297.7 1013.3 303.1 1005.2 305.8 991.7 305.8 983.6 303.1 970.1 297.7 962 289.6 959.3 284.2 959.3M321.6 960.3 351.9 960.3M365.3 948.6 365.3 946.9 367 943.5 368.7 941.9 372 940.2 378.8 940.2 382.1 941.9 383.8 943.5 385.5 946.9 385.5 950.3 383.8 953.6 380.4 958.7 363.6 975.5 387.2 975.5M222.1 1060.9 227.5 1058.2 235.6 1050.1 235.6 1106.8M284.2 1050.1 276.1 1052.8 270.7 1060.9 268 1074.4 268 1082.5 270.7 1096 276.1 1104.1 284.2 1106.8 289.6 1106.8 297.7 1104.1 303.1 1096 305.8 1082.5 305.8 1074.4 303.1 1060.9 297.7 1052.8 289.6 1050.1 284.2 1050.1M321.6 1051.2 351.9 1051.2M380.4 1031.1 363.6 1054.6 388.8 1054.6M380.4 1031.1 380.4 1066.3M222.1 1119.6 227.5 1116.9 235.6 1108.8 235.6 1165.5M284.2 1108.8 276.1 1111.5 270.7 1119.6 268 1133.1 268 1141.2 270.7 1154.7 276.1 1162.8 284.2 1165.5 289.6 1165.5 297.7 1162.8 303.1 1154.7 305.8 1141.2 305.8 1133.1 303.1 1119.6 297.7 1111.5 289.6 1108.8 284.2 1108.8M321.6 1109.9 351.9 1109.9M385.5 1094.8 383.8 1091.4 378.8 1089.7 375.4 1089.7 370.4 1091.4 367 1096.4 365.3 1104.8 365.3 1113.2 367 1120 370.4 1123.3 375.4 1125 377.1 1125 382.1 1123.3 385.5 1120 387.2 1114.9 387.2 1113.2 385.5 1108.2 382.1 1104.8 377.1 1103.2 375.4 1103.2 370.4 1104.8 367 1108.2 365.3 1113.2M265.8 1208.1 271.2 1205.4 279.3 1197.3 279.3 1254M327.9 1197.3 319.8 1200 314.4 1208.1 311.7 1221.6 311.7 1229.7 314.4 1243.2 319.8 1251.3 327.9 1254 333.3 1254 341.4 1251.3 346.8 1243.2 349.5 1229.7 349.5 1221.6 346.8 1208.1 341.4 1200 333.3 1197.3 327.9 1197.3M367 1178.2 385.5 1178.2 375.4 1191.7 380.4 1191.7 383.8 1193.3 385.5 1195 387.2 1200.1 387.2 1203.4 385.5 1208.5 382.1 1211.8 377.1 1213.5 372 1213.5 367 1211.8 365.3 1210.1 363.6 1206.8M265.8 1365.5 271.2 1362.8 279.3 1354.7 279.3 1411.4M327.9 1354.7 319.8 1357.4 314.4 1365.5 311.7 1379 311.7 1387.1 314.4 1400.6 319.8 1408.7 327.9 1411.4 333.3 1411.4 341.4 1408.7 346.8 1400.6 349.5 1387.1 349.5 1379 346.8 1365.5 341.4 1357.4 333.3 1354.7 327.9 1354.7M365.3 1344 365.3 1342.3 367 1339 368.7 1337.3 372 1335.6 378.8 1335.6 382.1 1337.3 383.8 1339 385.5 1342.3 385.5 1345.7 383.8 1349.1 380.4 1354.1 363.6 1370.9 387.2 1370.9M265.8 1547.3 271.2 1544.6 279.3 1536.5 279.3 1593.2M327.9 1536.5 319.8 1539.2 314.4 1547.3 311.7 1560.8 311.7 1568.9 314.4 1582.4 319.8 1590.5 327.9 1593.2 333.3 1593.2 341.4 1590.5 346.8 1582.4 349.5 1568.9 349.5 1560.8 346.8 1547.3 341.4 1539.2 333.3 1536.5 327.9 1536.5M368.7 1524.1 372 1522.5 377.1 1517.4 377.1 1552.7M265.8 1696.9 271.2 1694.2 279.3 1686.1 279.3 1742.8M327.9 1686.1 319.8 1688.8 314.4 1696.9 311.7 1710.4 311.7 1718.5 314.4 1732 319.8 1740.1 327.9 1742.8 333.3 1742.8 341.4 1740.1 346.8 1732 349.5 1718.5 349.5 1710.4 346.8 1696.9 341.4 1688.8 333.3 1686.1 327.9 1686.1M373.7 1667 368.7 1668.7 365.3 1673.7 363.6 1682.1 363.6 1687.2 365.3 1695.6 368.7 1700.6 373.7 1702.3 377.1 1702.3 382.1 1700.6 385.5 1695.6 387.2 1687.2 387.2 1682.1 385.5 1673.7 382.1 1668.7 377.1 1667 373.7 1667M265.8 1785.5 271.2 1782.8 279.3 1774.7 279.3 1831.4M327.9 1774.7 319.8 1777.4 314.4 1785.5 311.7 1799 311.7 1807.1 314.4 1820.6 319.8 1828.7 327.9 1831.4 333.3 1831.4 341.4 1828.7 346.8 1820.6 349.5 1807.1 349.5 1799 346.8 1785.5 341.4 1777.4 333.3 1774.7 327.9 1774.7M383.8 1755.6 367 1755.6 365.3 1770.7 367 1769.1 372 1767.4 377.1 1767.4 382.1 1769.1 385.5 1772.4 387.2 1777.5 387.2 1780.8 385.5 1785.9 382.1 1789.2 377.1 1790.9 372 1790.9 367 1789.2 365.3 1787.5 363.6 1784.2M265.8 1942.7 271.2 1940 279.3 1931.9 279.3 1988.6M327.9 1931.9 319.8 1934.6 314.4 1942.7 311.7 1956.2 311.7 1964.3 314.4 1977.8 319.8 1985.9 327.9 1988.6 333.3 1988.6 341.4 1985.9 346.8 1977.8 349.5 1964.3 349.5 1956.2 346.8 1942.7 341.4 1934.6 333.3 1931.9 327.9 1931.9M373.7 1912.8 368.7 1914.5 365.3 1919.5 363.6 1927.9 363.6 1933 365.3 1941.4 368.7 1946.4 373.7 1948.1 377.1 1948.1 382.1 1946.4 385.5 1941.4 387.2 1933 387.2 1927.9 385.5 1919.5 382.1 1914.5 377.1 1912.8 373.7 1912.8M222.1 2124.3 227.5 2121.6 235.6 2113.5 235.6 2170.2M284.2 2113.5 276.1 2116.2 270.7 2124.3 268 2137.8 268 2145.9 270.7 2159.4 276.1 2167.5 284.2 2170.2 289.6 2170.2 297.7 2167.5 303.1 2159.4 305.8 2145.9 305.8 2137.8 303.1 2124.3 297.7 2116.2 289.6 2113.5 284.2 2113.5M321.6 2114.6 351.9 2114.6M383.8 2094.4 367 2094.4 365.3 2109.5 367 2107.9 372 2106.2 377.1 2106.2 382.1 2107.9 385.5 2111.2 387.2 2116.3 387.2 2119.6 385.5 2124.7 382.1 2128 377.1 2129.7 372 2129.7 367 2128 365.3 2126.3 363.6 2123M188.5 2273.7 193.9 2271 202 2262.9 202 2319.6M250.6 2262.9 242.5 2265.6 237.1 2273.7 234.4 2287.2 234.4 2295.3 237.1 2308.8 242.5 2316.9 250.6 2319.6 256 2319.6 264.1 2316.9 269.5 2308.8 272.2 2295.3 272.2 2287.2 269.5 2273.7 264.1 2265.6 256 2262.9 250.6 2262.9M288 2264 318.3 2264M335.1 2250.5 338.4 2248.9 343.5 2243.8 343.5 2279.1M373.7 2243.8 368.7 2245.5 365.3 2250.5 363.6 2258.9 363.6 2264 365.3 2272.4 368.7 2277.4 373.7 2279.1 377.1 2279.1 382.1 2277.4 385.5 2272.4 387.2 2264 387.2 2258.9 385.5 2250.5 382.1 2245.5 377.1 2243.8 373.7 2243.8M401.3 2395.9 406.7 2393.2 414.8 2385.1 414.8 2441.8M463.4 2385.1 455.3 2387.8 449.9 2395.9 447.2 2409.4 447.2 2417.5 449.9 2431 455.3 2439.1 463.4 2441.8 468.8 2441.8 476.9 2439.1 482.3 2431 485 2417.5 485 2409.4 482.3 2395.9 476.9 2387.8 468.8 2385.1 463.4 2385.1M517.4 2385.1 509.3 2387.8 503.9 2395.9 501.2 2409.4 501.2 2417.5 503.9 2431 509.3 2439.1 517.4 2441.8 522.8 2441.8 530.9 2439.1 536.3 2431 539 2417.5 539 2409.4 536.3 2395.9 530.9 2387.8 522.8 2385.1 517.4 2385.1M896.8 2398.6 896.8 2395.9 899.5 2390.5 902.2 2387.8 907.6 2385.1 918.4 2385.1 923.8 2387.8 926.5 2390.5 929.2 2395.9 929.2 2401.3 926.5 2406.7 921.1 2414.8 894.1 2441.8 931.9 2441.8M964.3 2385.1 956.2 2387.8 950.8 2395.9 948.1 2409.4 948.1 2417.5 950.8 2431 956.2 2439.1 964.3 2441.8 969.7 2441.8 977.8 2439.1 983.2 2431 985.9 2417.5 985.9 2409.4 983.2 2395.9 977.8 2387.8 969.7 2385.1 964.3 2385.1M1018.3 2385.1 1010.2 2387.8 1004.8 2395.9 1002.1 2409.4 1002.1 2417.5 1004.8 2431 1010.2 2439.1 1018.3 2441.8 1023.7 2441.8 1031.8 2439.1 1037.2 2431 1039.9 2417.5 1039.9 2409.4 1037.2 2395.9 1031.8 2387.8 1023.7 2385.1 1018.3 2385.1M1400.5 2385.1 1430.2 2385.1 1414 2406.7 1422.1 2406.7 1427.5 2409.4 1430.2 2412.1 1432.9 2420.2 1432.9 2425.6 1430.2 2433.7 1424.8 2439.1 1416.7 2441.8 1408.6 2441.8 1400.5 2439.1 1397.8 2436.4 1395.1 2431M1465.3 2385.1 1457.2 2387.8 1451.8 2395.9 1449.1 2409.4 1449.1 2417.5 1451.8 2431 1457.2 2439.1 1465.3 2441.8 1470.7 2441.8 1478.8 2439.1 1484.2 2431 1486.9 2417.5 1486.9 2409.4 1484.2 2395.9 1478.8 2387.8 1470.7 2385.1 1465.3 2385.1M1519.3 2385.1 1511.2 2387.8 1505.8 2395.9 1503.1 2409.4 1503.1 2417.5 1505.8 2431 1511.2 2439.1 1519.3 2441.8 1524.7 2441.8 1532.8 2439.1 1538.2 2431 1540.9 2417.5 1540.9 2409.4 1538.2 2395.9 1532.8 2387.8 1524.7 2385.1 1519.3 2385.1M1923 2385.1 1896 2422.9 1936.5 2422.9M1923 2385.1 1923 2441.8M1966.2 2385.1 1958.1 2387.8 1952.7 2395.9 1950 2409.4 1950 2417.5 1952.7 2431 1958.1 2439.1 1966.2 2441.8 1971.6 2441.8 1979.7 2439.1 1985.1 2431 1987.8 2417.5 1987.8 2409.4 1985.1 2395.9 1979.7 2387.8 1971.6 2385.1 1966.2 2385.1M2020.2 2385.1 2012.1 2387.8 2006.7 2395.9 2004 2409.4 2004 2417.5 2006.7 2431 2012.1 2439.1 2020.2 2441.8 2025.6 2441.8 2033.7 2439.1 2039.1 2431 2041.8 2417.5 2041.8 2409.4 2039.1 2395.9 2033.7 2387.8 2025.6 2385.1 2020.2 2385.1M1002.1 2490.8 1002.1 2547.5M1026.4 2490.8 1026.4 2536.7 1029.1 2544.8 1034.5 2547.5 1039.9 2547.5M1018.3 2509.7 1037.2 2509.7M1053.4 2490.8 1056.1 2493.5 1058.8 2490.8 1056.1 2488.1 1053.4 2490.8M1056.1 2509.7 1056.1 2547.5M1080.4 2490.8 1080.4 2536.7 1083.1 2544.8 1088.5 2547.5 1093.9 2547.5M1072.3 2509.7 1091.2 2509.7M1110.1 2509.7 1110.1 2536.7 1112.8 2544.8 1118.2 2547.5 1126.3 2547.5 1131.7 2544.8 1139.8 2536.7M1139.8 2509.7 1139.8 2547.5M1191.1 2490.8 1191.1 2547.5M1191.1 2517.8 1185.7 2512.4 1180.3 2509.7 1172.2 2509.7 1166.8 2512.4 1161.4 2517.8 1158.7 2525.9 1158.7 2531.3 1161.4 2539.4 1166.8 2544.8 1172.2 2547.5 1180.3 2547.5 1185.7 2544.8 1191.1 2539.4M1210 2525.9 1242.4 2525.9 1242.4 2520.5 1239.7 2515.1 1237 2512.4 1231.6 2509.7 1223.5 2509.7 1218.1 2512.4 1212.7 2517.8 1210 2525.9 1210 2531.3 1212.7 2539.4 1218.1 2544.8 1223.5 2547.5 1231.6 2547.5 1237 2544.8 1242.4 2539.4M1304.5 2480 1304.5 2568.6M1307.2 2480 1307.2 2568.6M1304.5 2480 1323.4 2480M1304.5 2568.6 1323.4 2568.6M1342.3 2490.8 1342.3 2547.5M1369.3 2509.7 1342.3 2536.7M1353.1 2525.9 1372 2547.5M1388.2 2509.7 1388.2 2547.5M1388.2 2520.5 1396.3 2512.4 1401.7 2509.7 1409.8 2509.7 1415.2 2512.4 1417.9 2520.5 1417.9 2547.5M1417.9 2520.5 1426 2512.4 1431.4 2509.7 1439.5 2509.7 1444.9 2512.4 1447.6 2520.5 1447.6 2547.5M1482.7 2480 1482.7 2568.6M1485.4 2480 1485.4 2568.6M1466.5 2480 1485.4 2480M1466.5 2568.6 1485.4 2568.6M137.9 510.8 175.7 510.8M148.7 510.8 140.6 502.7 137.9 497.3 137.9 489.2 140.6 483.8 148.7 481.1 175.7 481.1M183.5 465.3 183.5 445.1 180.1 445.1 176.7 446.8 175.1 448.5 173.4 451.8 173.4 456.9 175.1 460.2 178.4 463.6 183.5 465.3 186.8 465.3 191.9 463.6 195.2 460.2 196.9 456.9 196.9 451.8 195.2 448.5 191.9 445.1M108.2 386.1 196.8 386.1M108.2 383.4 196.8 383.4M108.2 386.1 108.2 367.2M196.8 386.1 196.8 367.2M146 318.6 140.6 324 137.9 329.4 137.9 337.5 140.6 342.9 146 348.3 154.1 351 159.5 351 167.6 348.3 173 342.9 175.7 337.5 175.7 329.4 173 324 167.6 318.6M137.9 299.7 175.7 299.7M148.7 299.7 140.6 291.6 137.9 286.2 137.9 278.1 140.6 272.7 148.7 270 175.7 270M148.7 270 140.6 261.9 137.9 256.5 137.9 248.4 140.6 243 148.7 240.3 175.7 240.3M120.1 222.7 120.1 192.5M99.9 177.4 99.9 158.9 113.4 169 113.4 163.9 115 160.6 116.7 158.9 121.8 157.2 125.1 157.2 130.2 158.9 133.5 162.3 135.2 167.3 135.2 172.3 133.5 177.4 131.8 179.1 128.5 180.7M108.2 127.9 196.8 127.9M108.2 125.2 196.8 125.2M108.2 144.1 108.2 125.2M196.8 144.1 196.8 125.2M94 1076.6 94 1068.5 110.2 1071.2 123.7 1073.9 131.8 1076.6M94 1041.5 99.4 1042.6 104.8 1044.2 110.2 1047.4 115.6 1052.3 119.9 1057.7 124.2 1063.6 128.3 1069.9 131.8 1076.6M134.5 1010.2 131.2 1013.6 129.5 1016.9 129.5 1022 131.2 1025.3 134.5 1028.7 139.6 1030.4 142.9 1030.4 148 1028.7 151.3 1025.3 153 1022 153 1016.9 151.3 1013.6 148 1010.2M129.5 991.7 131.2 995.1 134.5 998.5 139.6 1000.1 142.9 1000.1 148 998.5 151.3 995.1 153 991.7 153 986.7 151.3 983.3 148 980 142.9 978.3 139.6 978.3 134.5 980 131.2 983.3 129.5 986.7 129.5 991.7M117.7 966.5 153 966.5M117.7 953.1 153 953.1M64.3 892.4 152.9 892.4M64.3 889.7 152.9 889.7M64.3 892.4 64.3 873.5M152.9 892.4 152.9 873.5M102.1 827.6 96.7 830.3 94 838.4 94 846.5 96.7 854.6 102.1 857.3 107.5 854.6 110.2 849.2 112.9 835.7 115.6 830.3 121 827.6 123.7 827.6 129.1 830.3 131.8 838.4 131.8 846.5 129.1 854.6 123.7 857.3M76.2 812.8 76.2 782.5M62.7 765.7 61.1 762.4 56 757.3 91.3 757.3M64.3 717.9 152.9 717.9M64.3 715.2 152.9 715.2M64.3 734.1 64.3 715.2M152.9 734.1 152.9 715.2M118.8 1597.4 175.5 1597.4M118.8 1597.4 118.8 1573.1 121.5 1565 124.2 1562.3 129.6 1559.6 135 1559.6 140.4 1562.3 143.1 1565 145.8 1573.1M145.8 1597.4 145.8 1573.1 148.5 1565 151.2 1562.3 156.6 1559.6 164.7 1559.6 170.1 1562.3 172.8 1565 175.5 1573.1 175.5 1597.4M108 1497.5 196.6 1497.5M108 1494.8 196.6 1494.8M108 1497.5 108 1478.6M196.6 1497.5 196.6 1478.6M137.7 1459.7 175.5 1459.7M148.5 1459.7 140.4 1451.6 137.7 1446.2 137.7 1438.1 140.4 1432.7 148.5 1430 175.5 1430M118.8 1397.6 175.5 1397.6M118.8 1416.5 118.8 1378.7M108 1351.7 196.6 1351.7M108 1349 196.6 1349M108 1367.9 108 1349M196.6 1367.9 196.6 1349M61.1 2222.5 61.1 2255.2 62.5 2263.6 66.6 2270.8 72.8 2275.6 80 2277.3 87.2 2275.6 93.4 2270.8 97.5 2263.6 98.9 2255.2 97.5 2246.7 93.4 2239.5 87.2 2234.7 80 2233 72.8 2234.7 66.6 2239.5 62.5 2246.7 61.1 2255.2M96.6 2209.6 131.9 2209.6M101.6 2209.6 98.3 2206.2 96.6 2202.8 96.6 2197.8 98.3 2194.4 101.6 2191.1 106.7 2189.4 110 2189.4 115.1 2191.1 118.4 2194.4 120.1 2197.8 120.1 2202.8 118.4 2206.2 115.1 2209.6M31.4 2130.4 120 2130.4M31.4 2127.7 120 2127.7M31.4 2130.4 31.4 2111.5M120 2130.4 120 2111.5M50.3 2057.5 44.9 2062.9 42.2 2071 42.2 2081.8 44.9 2089.9 50.3 2095.3 55.7 2095.3 61.1 2092.6 63.8 2089.9 66.5 2084.5 71.9 2068.3 74.6 2062.9 77.3 2060.2 82.7 2057.5 90.8 2057.5 96.2 2062.9 98.9 2071 98.9 2081.8 96.2 2089.9 90.8 2095.3M61.1 2013.1 98.9 2013.1M71.9 2013.1 63.8 2005 61.1 1999.6 61.1 1991.5 63.8 1986.1 71.9 1983.4 98.9 1983.4M71.9 1983.4 63.8 1975.3 61.1 1969.9 61.1 1961.8 63.8 1956.4 71.9 1953.7 98.9 1953.7M43.3 1936.2 43.3 1905.9M29.8 1889.1 28.2 1885.8 23.1 1880.7 58.4 1880.7M31.4 1841.3 120 1841.3M31.4 1838.6 120 1838.6M31.4 1857.5 31.4 1838.6M120 1857.5 120 1838.6M1232.9 188.5 1227.7 191.1 1222.4 196.4 1219.8 204.3 1219.8 209.5 1222.4 217.4 1227.7 222.7 1232.9 225.3 1240.8 225.3 1246.1 222.7 1251.3 217.4 1254 209.5 1254 204.3 1251.3 196.4 1246.1 191.1 1240.8 188.5 1232.9 188.5M1272.4 170.1 1272.4 225.3M1322.4 188.5 1322.4 225.3M1322.4 196.4 1317.1 191.1 1311.8 188.5 1303.9 188.5 1298.7 191.1 1293.4 196.4 1290.8 204.3 1290.8 209.5 1293.4 217.4 1298.7 222.7 1303.9 225.3 1311.8 225.3 1317.1 222.7 1322.4 217.4M1343.4 188.5 1343.4 225.3M1343.4 204.3 1346 196.4 1351.3 191.1 1356.5 188.5 1364.4 188.5M1419.7 188.5 1419.7 225.3M1419.7 199 1427.6 191.1 1432.8 188.5 1440.7 188.5 1446 191.1 1448.6 199 1448.6 225.3M1448.6 199 1456.5 191.1 1461.8 188.5 1469.6 188.5 1474.9 191.1 1477.5 199 1477.5 225.3M1527.5 188.5 1527.5 225.3M1527.5 196.4 1522.2 191.1 1517 188.5 1509.1 188.5 1503.8 191.1 1498.6 196.4 1495.9 204.3 1495.9 209.5 1498.6 217.4 1503.8 222.7 1509.1 225.3 1517 225.3 1522.2 222.7 1527.5 217.4M1545.9 188.5 1574.8 225.3M1574.8 188.5 1545.9 225.3M1590.6 170.1 1593.2 172.7 1595.9 170.1 1593.2 167.4 1590.6 170.1M1593.2 188.5 1593.2 225.3M1614.3 188.5 1614.3 225.3M1614.3 199 1622.2 191.1 1627.4 188.5 1635.3 188.5 1640.6 191.1 1643.2 199 1643.2 225.3M1643.2 199 1651.1 191.1 1656.4 188.5 1664.3 188.5 1669.5 191.1 1672.1 199 1672.1 225.3M1693.2 188.5 1693.2 214.8 1695.8 222.7 1701.1 225.3 1709 225.3 1714.2 222.7 1722.1 214.8M1722.1 188.5 1722.1 225.3M1743.2 188.5 1743.2 225.3M1743.2 199 1751 191.1 1756.3 188.5 1764.2 188.5 1769.5 191.1 1772.1 199 1772.1 225.3M1772.1 199 1780 191.1 1785.2 188.5 1793.1 188.5 1798.4 191.1 1801 199 1801 225.3M1233.4 1883.1 1228.2 1885.7 1222.9 1891 1220.3 1898.9 1220.3 1904.1 1222.9 1912 1228.2 1917.3 1233.4 1919.9 1241.3 1919.9 1246.6 1917.3 1251.8 1912 1254.5 1904.1 1254.5 1898.9 1251.8 1891 1246.6 1885.7 1241.3 1883.1 1233.4 1883.1M1272.9 1864.7 1272.9 1919.9M1322.9 1883.1 1322.9 1919.9M1322.9 1891 1317.6 1885.7 1312.3 1883.1 1304.4 1883.1 1299.2 1885.7 1293.9 1891 1291.3 1898.9 1291.3 1904.1 1293.9 1912 1299.2 1917.3 1304.4 1919.9 1312.3 1919.9 1317.6 1917.3 1322.9 1912M1343.9 1883.1 1343.9 1919.9M1343.9 1898.9 1346.5 1891 1351.8 1885.7 1357 1883.1 1364.9 1883.1M1420.2 1883.1 1420.2 1919.9M1420.2 1893.6 1428.1 1885.7 1433.3 1883.1 1441.2 1883.1 1446.5 1885.7 1449.1 1893.6 1449.1 1919.9M1449.1 1893.6 1457 1885.7 1462.2 1883.1 1470.1 1883.1 1475.4 1885.7 1478 1893.6 1478 1919.9M1528 1883.1 1528 1919.9M1528 1891 1522.7 1885.7 1517.5 1883.1 1509.6 1883.1 1504.3 1885.7 1499.1 1891 1496.4 1898.9 1496.4 1904.1 1499.1 1912 1504.3 1917.3 1509.6 1919.9 1517.5 1919.9 1522.7 1917.3 1528 1912M1546.4 1883.1 1575.3 1919.9M1575.3 1883.1 1546.4 1919.9M1591.1 1864.7 1593.7 1867.3 1596.4 1864.7 1593.7 1862 1591.1 1864.7M1593.7 1883.1 1593.7 1919.9M1614.8 1883.1 1614.8 1919.9M1614.8 1893.6 1622.7 1885.7 1627.9 1883.1 1635.8 1883.1 1641.1 1885.7 1643.7 1893.6 1643.7 1919.9M1643.7 1893.6 1651.6 1885.7 1656.9 1883.1 1664.8 1883.1 1670 1885.7 1672.6 1893.6 1672.6 1919.9M1693.7 1883.1 1693.7 1909.4 1696.3 1917.3 1701.6 1919.9 1709.5 1919.9 1714.7 1917.3 1722.6 1909.4M1722.6 1883.1 1722.6 1919.9M1743.7 1883.1 1743.7 1919.9M1743.7 1893.6 1751.5 1885.7 1756.8 1883.1 1764.7 1883.1 1770 1885.7 1772.6 1893.6 1772.6 1919.9M1772.6 1893.6 1780.5 1885.7 1785.7 1883.1 1793.6 1883.1 1798.9 1885.7 1801.5 1893.6 1801.5 1919.9M1177 826.2 1186.6 826.2 1183.4 845.4 1180.2 861.4 1177 871M1218.6 826.2 1217.3 832.6 1215.4 839 1211.6 845.4 1205.8 851.8 1199.4 856.9 1192.4 862 1185 866.8 1177 871M1231.7 880.3 1255.5 880.3 1255.5 876.3 1253.5 872.3 1251.5 870.4 1247.6 868.4 1241.6 868.4 1237.7 870.4 1233.7 874.3 1231.7 880.3 1231.7 884.2 1233.7 890.2 1237.7 894.1 1241.6 896.1 1247.6 896.1 1251.5 894.1 1255.5 890.2M1269.4 868.4 1269.4 896.1M1269.4 876.3 1275.3 870.4 1279.3 868.4 1285.2 868.4 1289.2 870.4 1291.1 876.3 1291.1 896.1" stroke="#000"/>
<path d="M782.1 496.9 776.9 499.5 771.6 504.8 769 512.7 769 517.9 771.6 525.8 776.9 531.1 782.1 533.7 790 533.7 795.3 531.1 800.5 525.8 803.2 517.9 803.2 512.7 800.5 504.8 795.3 499.5 790 496.9 782.1 496.9M821.6 478.5 821.6 533.7M871.6 496.9 871.6 533.7M871.6 504.8 866.3 499.5 861 496.9 853.1 496.9 847.9 499.5 842.6 504.8 840 512.7 840 517.9 842.6 525.8 847.9 531.1 853.1 533.7 861 533.7 866.3 531.1 871.6 525.8M892.6 496.9 892.6 533.7M892.6 512.7 895.2 504.8 900.5 499.5 905.8 496.9 913.6 496.9M968.9 496.9 968.9 533.7M968.9 507.4 976.8 499.5 982 496.9 989.9 496.9 995.2 499.5 997.8 507.4 997.8 533.7M997.8 507.4 1005.7 499.5 1010.9 496.9 1018.8 496.9 1024.1 499.5 1026.7 507.4 1026.7 533.7M1045.1 478.5 1047.8 481.1 1050.4 478.5 1047.8 475.8 1045.1 478.5M1047.8 496.9 1047.8 533.7M1068.8 496.9 1068.8 533.7M1068.8 507.4 1076.7 499.5 1082 496.9 1089.8 496.9 1095.1 499.5 1097.7 507.4 1097.7 533.7M1116.2 478.5 1118.8 481.1 1121.4 478.5 1118.8 475.8 1116.2 478.5M1118.8 496.9 1118.8 533.7M1139.8 496.9 1139.8 533.7M1139.8 507.4 1147.7 499.5 1153 496.9 1160.9 496.9 1166.1 499.5 1168.8 507.4 1168.8 533.7M1168.8 507.4 1176.6 499.5 1181.9 496.9 1189.8 496.9 1195 499.5 1197.7 507.4 1197.7 533.7M1218.7 496.9 1218.7 523.2 1221.3 531.1 1226.6 533.7 1234.5 533.7 1239.8 531.1 1247.7 523.2M1247.7 496.9 1247.7 533.7M1268.7 496.9 1268.7 533.7M1268.7 507.4 1276.6 499.5 1281.8 496.9 1289.7 496.9 1295 499.5 1297.6 507.4 1297.6 533.7M1297.6 507.4 1305.5 499.5 1310.8 496.9 1318.7 496.9 1323.9 499.5 1326.5 507.4 1326.5 533.7M781.9 2101.3 776.7 2103.9 771.4 2109.2 768.8 2117.1 768.8 2122.3 771.4 2130.2 776.7 2135.5 781.9 2138.1 789.8 2138.1 795.1 2135.5 800.3 2130.2 803 2122.3 803 2117.1 800.3 2109.2 795.1 2103.9 789.8 2101.3 781.9 2101.3M821.4 2082.9 821.4 2138.1M871.4 2101.3 871.4 2138.1M871.4 2109.2 866.1 2103.9 860.8 2101.3 852.9 2101.3 847.7 2103.9 842.4 2109.2 839.8 2117.1 839.8 2122.3 842.4 2130.2 847.7 2135.5 852.9 2138.1 860.8 2138.1 866.1 2135.5 871.4 2130.2M892.4 2101.3 892.4 2138.1M892.4 2117.1 895 2109.2 900.3 2103.9 905.5 2101.3 913.4 2101.3M968.7 2101.3 968.7 2138.1M968.7 2111.8 976.6 2103.9 981.8 2101.3 989.7 2101.3 995 2103.9 997.6 2111.8 997.6 2138.1M997.6 2111.8 1005.5 2103.9 1010.7 2101.3 1018.6 2101.3 1023.9 2103.9 1026.5 2111.8 1026.5 2138.1M1044.9 2082.9 1047.6 2085.5 1050.2 2082.9 1047.6 2080.2 1044.9 2082.9M1047.6 2101.3 1047.6 2138.1M1068.6 2101.3 1068.6 2138.1M1068.6 2111.8 1076.5 2103.9 1081.8 2101.3 1089.6 2101.3 1094.9 2103.9 1097.5 2111.8 1097.5 2138.1M1115.9 2082.9 1118.6 2085.5 1121.2 2082.9 1118.6 2080.2 1115.9 2082.9M1118.6 2101.3 1118.6 2138.1M1139.6 2101.3 1139.6 2138.1M1139.6 2111.8 1147.5 2103.9 1152.8 2101.3 1160.7 2101.3 1165.9 2103.9 1168.5 2111.8 1168.5 2138.1M1168.5 2111.8 1176.4 2103.9 1181.7 2101.3 1189.6 2101.3 1194.8 2103.9 1197.5 2111.8 1197.5 2138.1M1218.5 2101.3 1218.5 2127.6 1221.2 2135.5 1226.4 2138.1 1234.3 2138.1 1239.6 2135.5 1247.4 2127.6M1247.4 2101.3 1247.4 2138.1M1268.5 2101.3 1268.5 2138.1M1268.5 2111.8 1276.4 2103.9 1281.6 2101.3 1289.5 2101.3 1294.8 2103.9 1297.4 2111.8 1297.4 2138.1M1297.4 2111.8 1305.3 2103.9 1310.6 2101.3 1318.5 2101.3 1323.7 2103.9 1326.3 2111.8 1326.3 2138.1M876.3 962.9 885.9 962.9 882.7 982.1 879.5 998.1 876.3 1007.7M917.9 962.9 916.6 969.3 914.7 975.7 910.9 982.1 905.1 988.5 898.7 993.6 891.7 998.7 884.3 1003.5 876.3 1007.7M931 991.2 933 993.2 935 991.2 933 989.2 931 991.2M933 1005.1 933 1032.8M948.9 1005.1 948.9 1032.8M948.9 1013 954.8 1007.1 958.8 1005.1 964.7 1005.1 968.7 1007.1 970.6 1013 970.6 1032.8" stroke="#787878"/>
</g>
</svg>
</body></html>
